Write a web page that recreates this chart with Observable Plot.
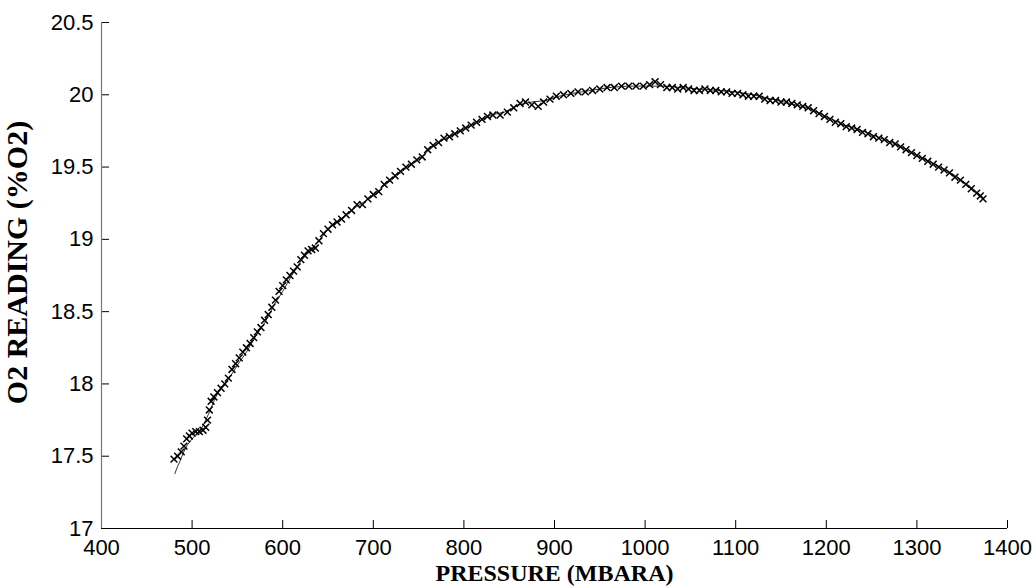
<!DOCTYPE html>
<html>
<head>
<meta charset="utf-8">
<script src="https://cdn.jsdelivr.net/npm/d3@7"></script>
<script src="https://cdn.jsdelivr.net/npm/@observablehq/plot@0.6"></script>
<style>
  html, body { margin: 0; padding: 0; background: #fff; }
  #chart { width: 1035px; height: 588px; }
</style>
</head>
<body>
<div id="chart"></div>
<script>
// Tick labels
const xTicks = [400, 500, 600, 700, 800, 900, 1000, 1100, 1200, 1300, 1400];
const yTicks = [17, 17.5, 18, 18.5, 19, 19.5, 20, 20.5];
const xTitle = "PRESSURE (MBARA)";
const yTitle = "O2 READING (%O2)";

// Marker series (x symbols): pressure (mbara) and O2 reading (%)
const markerP = [480,484,488,491,494,497,500,504,508,512,515,517,519,521,524,528,532,536,540,544,548,552,556,560,564,568,572,576,580,584,588,592,596,600,604,608,612,616,620,624,628,632,636,640,645,650,655,660,665,670,676,682,688,694,700,706,712,718,724,730,736,742,748,754,760,766,772,778,784,790,796,802,808,814,820,826,832,840,848,855,862,868,875,882,888,895,902,910,918,926,934,942,950,958,966,974,982,990,998,1005,1011,1017,1024,1030,1036,1042,1048,1054,1060,1066,1072,1078,1084,1090,1096,1102,1108,1114,1120,1126,1132,1138,1144,1150,1156,1162,1168,1174,1180,1186,1192,1198,1204,1210,1216,1222,1228,1234,1240,1246,1252,1258,1264,1270,1276,1282,1288,1294,1300,1306,1312,1318,1324,1330,1336,1342,1348,1354,1360,1366,1370,1373];
const markerO2 = [17.48,17.50,17.53,17.57,17.62,17.64,17.66,17.67,17.67,17.68,17.70,17.75,17.82,17.88,17.91,17.94,17.97,18.00,18.04,18.10,18.14,18.18,18.22,18.25,18.28,18.32,18.36,18.39,18.44,18.48,18.53,18.58,18.64,18.68,18.72,18.75,18.78,18.81,18.86,18.89,18.92,18.93,18.94,18.99,19.04,19.07,19.10,19.12,19.14,19.17,19.20,19.24,19.24,19.28,19.31,19.33,19.38,19.41,19.44,19.47,19.50,19.52,19.55,19.57,19.62,19.65,19.67,19.70,19.71,19.73,19.75,19.77,19.79,19.81,19.83,19.85,19.86,19.86,19.88,19.91,19.94,19.95,19.93,19.92,19.95,19.97,19.99,20.00,20.01,20.02,20.02,20.03,20.04,20.05,20.05,20.06,20.06,20.06,20.06,20.07,20.09,20.07,20.05,20.05,20.04,20.05,20.04,20.03,20.03,20.04,20.03,20.03,20.02,20.02,20.01,20.01,20.00,19.99,19.99,19.99,19.97,19.96,19.96,19.95,19.95,19.94,19.93,19.92,19.91,19.89,19.87,19.85,19.83,19.81,19.80,19.78,19.77,19.76,19.74,19.73,19.71,19.70,19.69,19.67,19.66,19.64,19.62,19.60,19.58,19.56,19.54,19.52,19.50,19.48,19.46,19.43,19.41,19.38,19.35,19.32,19.30,19.28];

// Thin line series
const lineP = [481,484,487,490,495,500,506,512,518,524,530,540,550,560,570,580,590,600,610,620,630,640,650,660,670,680,690,700,710,720,730,740,750,760,770,780,790,800,815,830,845,860,875,890,905,920,940,960,980,1000,1020,1040,1060,1080,1100,1120,1140,1160,1180,1200,1220,1240,1260,1280,1300,1320,1340,1360,1373];
const lineO2 = [17.38,17.43,17.47,17.52,17.58,17.62,17.66,17.71,17.79,17.88,17.96,18.03,18.13,18.22,18.33,18.42,18.54,18.64,18.75,18.85,18.92,18.99,19.07,19.12,19.17,19.22,19.26,19.30,19.36,19.41,19.46,19.51,19.55,19.61,19.66,19.70,19.73,19.76,19.81,19.86,19.88,19.93,19.95,19.96,19.99,20.01,20.03,20.05,20.06,20.06,20.06,20.05,20.04,20.03,20.02,20.00,19.97,19.94,19.91,19.85,19.79,19.75,19.70,19.65,19.58,19.52,19.45,19.36,19.29];

const markers = markerP.map((p, i) => ({p, o2: markerO2[i]}));
const linePts = lineP.map((p, i) => ({p, o2: lineO2[i]}));

const W = 1035, H = 588;
const mL = 101, mR = 28, mT = 22, mB = 60;
const frameW = W - mL - mR, frameH = H - mT - mB;
const tickLen = 8;

const chart = Plot.plot({
  width: W,
  height: H,
  marginLeft: mL,
  marginRight: mR,
  marginTop: mT,
  marginBottom: mB,
  style: {fontFamily: "'Liberation Sans', Arial, Helvetica, sans-serif", fontSize: "22px", background: "#fff", color: "#000"},
  x: {domain: [400, 1400]},
  y: {domain: [17, 20.5]},
  marks: [
    Plot.axisX(xTicks, {tickSize: 0, tickPadding: 11, label: null, tickFormat: d => String(d)}),
    Plot.axisY(yTicks, {tickSize: 0, tickPadding: 8, label: null, tickFormat: d => String(d)}),
    Plot.tickX(xTicks, {x: d => d, insetTop: frameH - tickLen, stroke: "#000", strokeWidth: 1}),
    Plot.tickY(yTicks, {y: d => d, insetRight: frameW - tickLen, stroke: "#000", strokeWidth: 1}),
    Plot.ruleX([400], {stroke: "#777", strokeWidth: 1.2}),
    Plot.ruleY([17], {stroke: "#000", strokeWidth: 1.2}),
    Plot.line(linePts, {x: "p", y: "o2", stroke: "#000", strokeWidth: 0.8}),
    Plot.dot(markers, {x: "p", y: "o2", symbol: "times", r: 3.2, stroke: "#000", strokeWidth: 1.5}),
    Plot.text([xTitle], {frameAnchor: "bottom", lineAnchor: "bottom", dy: 52, fontFamily: "'Liberation Serif', 'Times New Roman', serif", fontWeight: "bold", fontSize: 24, fill: "#000"}),
    Plot.text([yTitle], {frameAnchor: "left", textAnchor: "middle", lineAnchor: "middle", rotate: -90, dx: -84, dy: -13, fontFamily: "'Liberation Serif', 'Times New Roman', serif", fontWeight: "bold", fontSize: 30, fill: "#000"})
  ]
});
document.getElementById("chart").appendChild(chart);
</script>
</body>
</html>
